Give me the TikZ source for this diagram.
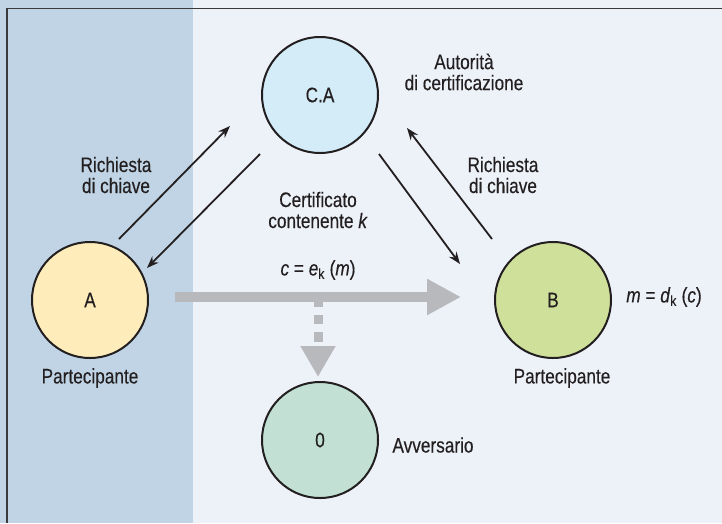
\documentclass[tikz,border=0pt]{standalone}
\usepackage{fontspec}
\setmainfont[FakeStretch=0.82,FakeBold=0.3]{Liberation Sans}
\usetikzlibrary{arrows.meta}
\definecolor{band}{HTML}{C0D4E5}
\definecolor{bglight}{HTML}{EDF2F9}
\definecolor{framec}{HTML}{3A3A3C}
\definecolor{inkc}{HTML}{231F20}
\definecolor{cafill}{HTML}{D3ECF8}
\definecolor{afill}{HTML}{FEEDBB}
\definecolor{bfill}{HTML}{CFE09A}
\definecolor{ofill}{HTML}{C2E1D4}
\definecolor{grayarrow}{HTML}{B8B9BC}
\tikzset{
  circ/.style={circle, draw=inkc, line width=2pt, minimum size=116pt, inner sep=0pt, text=inkc},
  txt/.style={align=center, text=inkc, inner sep=0pt},
  blackarrow/.style={draw=inkc, line width=1.8pt, -{Stealth[length=12pt,width=9pt]}},
  bigarrow/.style={draw=grayarrow, line width=10pt, -{Triangle[length=34pt,width=34pt]}},
  dasharrow/.style={draw=grayarrow, line width=9pt, dash pattern=on 9.5pt off 8pt, -{Triangle[length=31pt,width=33pt]}}
}
\begin{document}
\begin{tikzpicture}[x=1pt,y=-1pt, font=\fontsize{21}{21}\selectfont]
\useasboundingbox (0,0) rectangle (722,523);
\fill[bglight] (0,0) rectangle (722,523);
\fill[band] (0,0) rectangle (193,523);
\draw[framec, line width=1.4pt] (7,523) -- (7,8.5) -- (722,8.5);

\node[circ, fill=cafill] (CA) at (320,95) {C.A};
\node[circ, fill=afill] (A) at (90,300) {A};
\node[circ, fill=bfill] (B) at (553,300) {B};
\node[circ, fill=ofill] (O) at (320,440) {0};

\node[txt] (lca) at (464,72) {Autorità\\di certificazione};
\node[txt] (lreqA) at (116,175) {Richiesta\\di chiave};
\node[txt] (lreqB) at (503,175) {Richiesta\\di chiave};
\node[txt] (lcert) at (318,210) {Certificato\\contenente \textit{k}};
\node[txt] (lenc) at (318,270) {\textit{c} = \textit{e}\textsubscript{k} (\textit{m})};
\node[txt] (ldec) at (664,297) {\textit{m} = \textit{d}\textsubscript{k} (\textit{c})};
\node[txt] (lpA) at (90,378) {Partecipante};
\node[txt] (lpB) at (562,378) {Partecipante};
\node[txt] (lO) at (433,445) {Avversario};

\coordinate (a1) at (119,239);
\coordinate (a2) at (230,126);
\coordinate (c1) at (260,154);
\coordinate (c2) at (147,268);
\coordinate (d1) at (379,154);
\coordinate (d2) at (460,264);
\coordinate (b1) at (492,239);
\coordinate (b2) at (407,128);
\draw[blackarrow] (a1) -- (a2);
\draw[blackarrow] (c1) -- (c2);
\draw[blackarrow] (d1) -- (d2);
\draw[blackarrow] (b1) -- (b2);

\coordinate (tap) at (318,297);
\draw[dasharrow] (tap) -- (O.north -| tap) [shorten >=4pt];
\draw[bigarrow] (A.east) ++(26,-3) coordinate (g1) (g1) -- (B.west |- g1) [shorten >=33pt];
\end{tikzpicture}
\end{document}
